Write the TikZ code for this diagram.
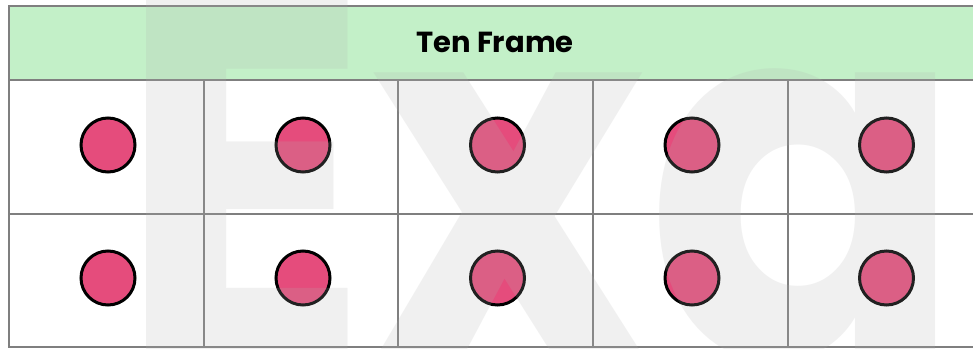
\documentclass[tikz,border=0pt]{standalone}
\usepackage{fontspec}
\setmainfont{Poppins}
\newfontfamily\wmfont{Poppins}
\definecolor{hdrgreen}{HTML}{C3F0C8}
\definecolor{dotpink}{HTML}{E54C7C}
\definecolor{gridgray}{HTML}{7F7F7F}
\definecolor{wmgray}{HTML}{B1B1B1}
\tikzset{
  gridline/.style={draw=gridgray, line width=2pt},
  dot/.style={circle, draw=black, line width=3pt, fill=dotpink, minimum size=54pt, inner sep=0pt},
  titletext/.style={font=\fontsize{29}{31}\selectfont\bfseries, text=black, inner sep=0pt},
  watermark/.style={font=\wmfont\fontsize{512}{512}\selectfont\bfseries, text=wmgray, text opacity=0.19, inner sep=0pt, anchor=base west, xscale=0.915, transform shape}
}
\begin{document}
\begin{tikzpicture}[x=1pt, y=-1pt]
\useasboundingbox (0,0) rectangle (973,348);
\fill[white] (0,0) rectangle (973,348);
% header
\fill[hdrgreen] (9,5.5) rectangle (982,80);
\node[titletext] (title) at (495,42.5) {Ten Frame};
% grid
\draw[gridline] (982,5.5) -- (9,5.5) -- (9,347) -- (982,347);
\draw[gridline] (9,80) -- (982,80);
\draw[gridline] (9,213.5) -- (982,213.5);
\foreach \x in {203.7,398.3,593,787.5} {
  \draw[gridline] (\x,80) -- (\x,347);
}
% dots
\foreach \i/\x in {1/108,2/303,3/497.5,4/692,5/886.5} {
  \node[dot] (a\i) at (\x,145) {};
  \node[dot] (b\i) at (\x,278) {};
}
% watermark
\begin{scope}
\clip (0,0) rectangle (973,348);
\node[watermark] (wm) at (117.5,358.5) {Exa};
\end{scope}
\end{tikzpicture}
\end{document}
